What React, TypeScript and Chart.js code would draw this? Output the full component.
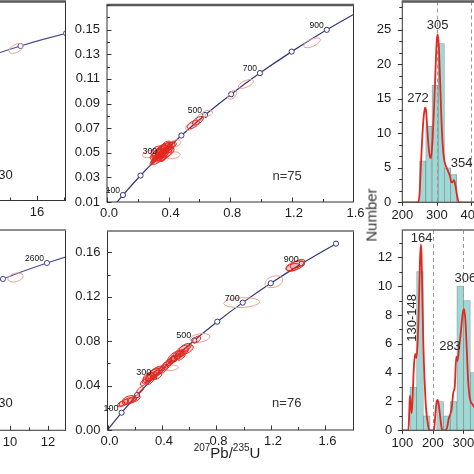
import React, { useEffect, useRef } from 'react';
import { Chart, registerables } from 'chart.js';

Chart.register(...registerables);

const FONT = "'Liberation Sans', Arial, Helvetica, sans-serif";
Chart.defaults.font.family = FONT;
Chart.defaults.color = '#1e1e1e';

// ---------------- DATA ----------------
// Concordia reference points (age in Ma, 207Pb/235U, 206Pb/238U)
const youngAges = [0, 100, 200, 300, 400, 500, 600, 700, 800, 900, 1000];
const young207_235 = [0, 0.1035, 0.2177, 0.3437, 0.4828, 0.6363, 0.8057, 0.9925, 1.1987, 1.4264, 1.6774];
const young206_238 = [0, 0.01563, 0.03151, 0.04764, 0.06402, 0.08065, 0.09754, 0.1147, 0.13213, 0.14983, 0.16781];
const youngMarkedAges = [100, 200, 300, 400, 500, 600, 700, 800, 900, 1000];
const youngLabelledAges = [100, 300, 500, 700, 900];

const oldAges = [2300, 2400, 2500, 2600, 2700, 2800, 2900, 3000, 3100];
const old207_235 = [8.6329, 9.6298, 10.7305, 11.944, 13.2837, 14.7617, 16.3923, 18.1919, 20.1797];
const old206_238 = [0.42874, 0.45108, 0.47376, 0.49678, 0.52013, 0.544, 0.56814, 0.59266, 0.61748];
const oldMarkedAges = [2400, 2600, 2800, 3000];
const oldLabelledAges = [2600];

// Error ellipses: [207Pb/235U, ±, 206Pb/238U, ±, rho]
const topLeftEllipses = [[14.42, 0.53, 0.5345, 0.019, 0.5]];
const bottomLeftEllipses = [[10.29, 0.4, 0.4553, 0.013, 0.3]];

const topMidStrong = [
  [0.32, 0.03, 0.046, 0.0035, 0.8], [0.33, 0.035, 0.0475, 0.004, 0.8], [0.34, 0.03, 0.0485, 0.0035, 0.7],
  [0.35, 0.035, 0.0495, 0.004, 0.8], [0.36, 0.03, 0.05, 0.0035, 0.7], [0.37, 0.035, 0.051, 0.004, 0.7],
  [0.38, 0.03, 0.052, 0.0035, 0.7], [0.39, 0.03, 0.053, 0.0035, 0.6], [0.31, 0.025, 0.0445, 0.003, 0.8],
  [0.3, 0.02, 0.043, 0.003, 0.8], [0.345, 0.045, 0.048, 0.005, 0.8], [0.365, 0.045, 0.0505, 0.005, 0.8],
  [0.355, 0.02, 0.047, 0.0025, 0.6], [0.375, 0.025, 0.049, 0.003, 0.6], [0.335, 0.02, 0.0505, 0.003, 0.6],
  [0.325, 0.03, 0.0495, 0.0035, 0.5], [0.405, 0.035, 0.055, 0.0035, 0.6], [0.42, 0.03, 0.056, 0.003, 0.5],
  [0.385, 0.04, 0.0545, 0.004, 0.6], [0.35, 0.025, 0.052, 0.003, 0.6], [0.315, 0.035, 0.0485, 0.004, 0.7],
  [0.365, 0.02, 0.0455, 0.0025, 0.5], [0.34, 0.05, 0.0505, 0.0055, 0.7], [0.37, 0.05, 0.0485, 0.005, 0.6],
  [0.36, 0.045, 0.053, 0.005, 0.7], [0.33, 0.04, 0.045, 0.0045, 0.7], [0.39, 0.045, 0.0505, 0.0045, 0.5],
  [0.35, 0.04, 0.0465, 0.004, 0.5], [0.38, 0.035, 0.0555, 0.004, 0.6], [0.32, 0.035, 0.0515, 0.004, 0.5],
  [0.4, 0.03, 0.0525, 0.003, 0.5], [0.355, 0.03, 0.0535, 0.0035, 0.6],
  [0.56, 0.04, 0.073, 0.0035, 0.6], [0.59, 0.035, 0.076, 0.0035, 0.6],
];
const topMidPale = [
  [0.275, 0.045, 0.049, 0.003, 0.3], [0.425, 0.05, 0.048, 0.0028, 0.2], [0.44, 0.04, 0.0575, 0.003, 0.4],
  [0.61, 0.03, 0.079, 0.003, 0.5], [0.54, 0.03, 0.0712, 0.003, 0.5], [0.65, 0.035, 0.082, 0.0025, 0.3],
  [0.813, 0.029, 0.097, 0.0036, 0.5], [0.902, 0.049, 0.1059, 0.0036, 0.6], [1.331, 0.054, 0.1393, 0.004, 0.6],
];
const bottomMidStrong = [
  [1.377, 0.066, 0.1478, 0.0045, 0.5], [1.395, 0.055, 0.1495, 0.004, 0.6], [1.36, 0.05, 0.1465, 0.0035, 0.4],
  [0.655, 0.03, 0.0815, 0.003, 0.5],
  [0.44, 0.035, 0.06, 0.004, 0.7], [0.47, 0.04, 0.0625, 0.0045, 0.7], [0.5, 0.04, 0.065, 0.004, 0.7],
  [0.53, 0.04, 0.068, 0.0045, 0.7], [0.56, 0.035, 0.07, 0.004, 0.7], [0.59, 0.04, 0.0725, 0.004, 0.6],
  [0.51, 0.05, 0.067, 0.005, 0.7], [0.54, 0.03, 0.066, 0.003, 0.6], [0.48, 0.03, 0.064, 0.003, 0.6],
  [0.57, 0.045, 0.074, 0.004, 0.6], [0.49, 0.05, 0.0655, 0.0055, 0.6], [0.55, 0.05, 0.0715, 0.005, 0.6],
  [0.29, 0.035, 0.046, 0.004, 0.7], [0.32, 0.04, 0.048, 0.0045, 0.7], [0.35, 0.035, 0.05, 0.004, 0.7],
  [0.38, 0.04, 0.053, 0.004, 0.7], [0.41, 0.035, 0.055, 0.004, 0.6], [0.31, 0.03, 0.044, 0.003, 0.6],
  [0.34, 0.045, 0.051, 0.005, 0.6], [0.27, 0.03, 0.043, 0.003, 0.6], [0.37, 0.03, 0.049, 0.003, 0.5],
  [0.43, 0.04, 0.058, 0.004, 0.6], [0.24, 0.025, 0.036, 0.003, 0.6], [0.33, 0.05, 0.0495, 0.0055, 0.6],
  [0.36, 0.05, 0.0525, 0.005, 0.6], [0.3, 0.04, 0.0475, 0.0045, 0.5],
  [0.12, 0.035, 0.0245, 0.003, 0.5], [0.15, 0.04, 0.026, 0.003, 0.5], [0.18, 0.035, 0.027, 0.003, 0.5],
  [0.21, 0.03, 0.0285, 0.003, 0.5], [0.16, 0.05, 0.0275, 0.0035, 0.4], [0.1, 0.025, 0.0235, 0.0025, 0.5],
];
const bottomMidPale = [
  [1.222, 0.066, 0.1335, 0.0054, 0.3], [0.985, 0.132, 0.1147, 0.0045, 0.15],
  [0.679, 0.073, 0.0829, 0.004, 0.3], [0.47, 0.05, 0.056, 0.0025, 0.2],
];

// Histograms (age in Ma, counts) and probability curves
const upperBinAges = [259, 277, 295, 313, 331, 349];
const upperBinCounts = [6, 11, 17, 23, 5, 4];
const upperKdeAges = [200, 245, 250, 254, 258, 262, 266, 269, 272, 276, 280, 283, 287, 291, 295, 298, 301, 303, 306, 309, 313, 317, 321, 326, 332, 338, 343, 347, 350, 354, 358, 362, 366, 430];
const upperKdeValues = [0, 0, 1.2, 5.4, 9.5, 12.4, 13.7, 13.2, 11, 8.2, 6.6, 6.4, 8.5, 12.5, 17.5, 21.5, 24, 24.3, 22.5, 18.5, 12.5, 8.4, 6.3, 5.3, 4.6, 3.8, 2.9, 3.0, 3.2, 2.4, 1.2, 0.2, 0, 0];
const upperPeakLabels = ['305', '272', '354'];
const upperPeakAges = [302.6, 245.5, 372];
const upperPeakCounts = [25.7, 15.1, 5.7];
const upperRefLines = [300, 400];

const lowerBinAges = [136, 158, 180, 202, 224, 246, 268, 290, 312, 334];
const lowerBinCounts = [3, 11, 1, 0, 2, 1, 2, 10, 9, 4];
const lowerKdeAges = [100, 120, 123, 125, 128, 131, 134, 138, 142, 146, 150, 154, 158, 161, 163, 166, 169, 173, 178, 184, 189, 204, 208, 212, 216, 220, 224, 229, 233, 243, 248, 252, 257, 262, 267, 272, 277, 281, 286, 291, 296, 300, 303, 307, 311, 315, 319, 324, 330, 340, 355];
const lowerKdeValues = [0, 0, 1.4, 2.4, 1.7, 1.2, 2.4, 4.4, 5.3, 5.0, 6.0, 8.4, 11.8, 12.9, 12.2, 9.0, 6.0, 3.5, 1.5, 0.4, 0, 0, 1.0, 1.9, 2.1, 1.7, 1.0, 0.15, 0, 0, 0.3, 0.8, 1.1, 1.5, 2.6, 3.0, 5.1, 4.8, 5.7, 6.6, 7.7, 8.3, 8.4, 7.6, 5.8, 3.8, 2.6, 2.0, 1.8, 1.5, 1.0];
const lowerPeakLabels = ['164', '306', '283'];
const lowerPeakAges = [163.6, 307, 256.4];
const lowerPeakCounts = [13.34, 10.56, 5.85];
const lowerRangeLabel = '130-148';
const lowerRefLines = [200, 300];

const sampleCounts = ['n=30', 'n=75', 'n=30', 'n=76'];

// ---------------- STYLE ----------------
const NAVY = '#33367a';
const NAVY_OLD = '#4a4e92';
const RED = '#e2281f';
const RED_SHADE = 'rgba(226,40,31,0.14)';
const PALE = '#eca08f';
const TXT = '#1e1e1e';
const BAR_FILL = '#a0d8d5';
const BAR_EDGE = '#7d9b9b';

// ---------------- PLUGINS (config kept in closures) ----------------
type Extras = {
  ellipses?: { items: number[][]; color: string; shade?: string }[];
  frameTop: { width: number; color: string };
  ticks: { id: string; dir: 'in' | 'out'; major: number; minor: number; minorStep?: number }[];
  texts?: any[];
  vlines?: number[];
};

function makePlugins(ex: Extras) {
  const ellipses = {
    id: 'ellipsesLayer',
    afterDatasetsDraw(chart: any) {
      if (!ex.ellipses) return;
      const { ctx, chartArea: a } = chart;
      const xs = chart.scales.x, ys = chart.scales.y;
      ctx.save();
      ctx.beginPath();
      ctx.rect(a.left, a.top, a.right - a.left, a.bottom - a.top);
      ctx.clip();
      for (const g of ex.ellipses) {
        ctx.strokeStyle = g.color;
        ctx.lineWidth = 1;
        for (const e of g.items) {
          const [x, sx, y, sy, rho] = e;
          const cx = xs.getPixelForValue(x), cy = ys.getPixelForValue(y);
          const kx = Math.abs(xs.getPixelForValue(x + sx) - cx);
          const ky = Math.abs(ys.getPixelForValue(y + sy) - cy);
          const A = kx * kx, C = ky * ky, B = -rho * kx * ky;
          const h = (A + C) / 2, d = Math.sqrt(((A - C) / 2) ** 2 + B * B);
          const r1 = Math.sqrt(h + d), r2 = Math.sqrt(Math.max(h - d, 0.05));
          const th = 0.5 * Math.atan2(2 * B, A - C);
          ctx.beginPath();
          ctx.ellipse(cx, cy, r1, r2, th, 0, Math.PI * 2);
          if (g.shade) {
            ctx.fillStyle = g.shade;
            ctx.fill();
          }
          ctx.stroke();
        }
      }
      ctx.restore();
    },
  };
  const vlines = {
    id: 'refLines',
    afterDatasetDraw(chart: any, args: any) {
      if (!ex.vlines || args.index !== 1) return;
      const { ctx, chartArea: a } = chart;
      const xs = chart.scales.x;
      ctx.save();
      ctx.strokeStyle = '#9a9a9a';
      ctx.lineWidth = 1;
      ctx.setLineDash([4, 3]);
      for (const v of ex.vlines) {
        const p = Math.round(xs.getPixelForValue(v)) + 0.5;
        ctx.beginPath();
        ctx.moveTo(p, a.top);
        ctx.lineTo(p, a.bottom);
        ctx.stroke();
      }
      ctx.restore();
    },
  };
  const frame = {
    id: 'frameLayer',
    afterDraw(chart: any) {
      const { ctx, chartArea: a } = chart;
      ctx.save();
      ctx.strokeStyle = '#333';
      ctx.lineWidth = 1;
      ctx.strokeRect(a.left, a.top, a.right - a.left, a.bottom - a.top);
      ctx.strokeStyle = ex.frameTop.color;
      ctx.lineWidth = ex.frameTop.width;
      ctx.beginPath();
      ctx.moveTo(a.left - 0.5, a.top);
      ctx.lineTo(a.right + 0.5, a.top);
      ctx.stroke();
      ctx.restore();
    },
  };
  const ticks = {
    id: 'tickLayer',
    afterDraw(chart: any) {
      const { ctx, chartArea: a } = chart;
      ctx.save();
      ctx.strokeStyle = '#333';
      ctx.lineWidth = 1;
      for (const spec of ex.ticks) {
        const s = chart.scales[spec.id];
        const marks: number[][] = s.ticks.map((t: any) => [t.value, t.label ? spec.major : spec.minor]);
        if (spec.minorStep) {
          const k0 = Math.ceil(s.min / spec.minorStep - 1e-9);
          const k1 = Math.floor(s.max / spec.minorStep + 1e-9);
          for (let k = k0; k <= k1; k++) {
            const v = k * spec.minorStep;
            if (!s.ticks.some((t: any) => Math.abs(t.value - v) < spec.minorStep! * 1e-3)) marks.push([v, spec.minor]);
          }
        }
        const sign = spec.dir === 'in' ? 1 : -1;
        ctx.beginPath();
        for (const [v, len] of marks) {
          if (!len) continue;
          const p = Math.round(s.getPixelForValue(v)) + 0.5;
          if (spec.id === 'x') {
            if (p < a.left - 0.6 || p > a.right + 0.6) continue;
            ctx.moveTo(p, a.bottom);
            ctx.lineTo(p, a.bottom - sign * len);
          } else {
            if (p < a.top - 0.6 || p > a.bottom + 0.6) continue;
            ctx.moveTo(a.left, p);
            ctx.lineTo(a.left + sign * len, p);
          }
        }
        ctx.stroke();
      }
      ctx.restore();
    },
  };
  const texts = {
    id: 'textLayer',
    afterDraw(chart: any) {
      if (!ex.texts) return;
      const { ctx } = chart;
      const xs = chart.scales.x, ys = chart.scales.y;
      ctx.save();
      for (const it of ex.texts) {
        const px = xs.getPixelForValue(it.x) + (it.dx || 0);
        const py = ys.getPixelForValue(it.y) + (it.dy || 0);
        ctx.font = it.font;
        ctx.fillStyle = it.color || TXT;
        ctx.textAlign = it.align || 'center';
        ctx.textBaseline = it.base || 'middle';
        if (it.rot) {
          ctx.save();
          ctx.translate(px, py);
          ctx.rotate(it.rot);
          ctx.fillText(it.text, 0, 0);
          ctx.restore();
        } else {
          ctx.fillText(it.text, px, py);
        }
      }
      ctx.restore();
    },
  };
  return [ellipses, vlines, frame, ticks, texts];
}

// ---------------- HELPERS ----------------
type Box = { l: number; t: number; w: number; h: number };
type Area = { l: number; t: number; r: number; b: number };

function layoutFor(box: Box, area: Area, yShown: boolean) {
  return {
    padding: { left: yShown ? 0 : area.l - box.l, top: area.t - box.t, right: box.l + box.w - area.r, bottom: 0 },
    yW: area.l - box.l,
    xH: box.t + box.h - area.b,
  };
}

const zeroPad = (s: any) => {
  s.paddingLeft = 0; s.paddingRight = 0; s.paddingTop = 0; s.paddingBottom = 0;
};

function xAxis(min: number, max: number, step: number, fmt: (v: number) => string, h: number, padding = 4, labelOffset = 0) {
  return {
    type: 'linear', min, max,
    afterFit: (s: any) => { s.height = h; zeroPad(s); },
    grid: { display: false, drawTicks: false },
    border: { display: false },
    ticks: { stepSize: step, autoSkip: false, maxRotation: 0, minRotation: 0, includeBounds: false, padding, labelOffset, color: TXT, font: { size: 13 }, callback: fmt },
  };
}
function yAxis(min: number, max: number, step: number, fmt: (v: number) => string, w: number, padding = 7) {
  return {
    type: 'linear', min, max,
    afterFit: (s: any) => { s.width = w; zeroPad(s); },
    grid: { display: false, drawTicks: false },
    border: { display: false },
    ticks: { stepSize: step, autoSkip: false, includeBounds: false, padding, color: TXT, font: { size: 13 }, callback: fmt },
  };
}
function baseOptions(padding: any) {
  return {
    responsive: false, animation: false, devicePixelRatio: 1, events: [],
    layout: { padding },
  };
}
function concordia(xs: number[], ys: number[], ages: number[], marked: number[], color: string) {
  return {
    type: 'line',
    data: xs.map((x, i) => ({ x, y: ys[i] })),
    borderColor: color, borderWidth: 1.2,
    pointRadius: ages.map((a) => (marked.includes(a) ? 2.6 : 0)),
    pointBackgroundColor: '#ffffff', pointBorderColor: color, pointBorderWidth: 1,
    cubicInterpolationMode: 'monotone', fill: false,
  };
}
function ageLabels(xs: number[], ys: number[], ages: number[], labelled: number[], size: number) {
  return labelled.map((age) => {
    const i = ages.indexOf(age);
    return { text: String(age), x: xs[i], y: ys[i], dx: -3, dy: 0, align: 'right', base: 'bottom', font: `${size}px ${FONT}`, color: '#111' };
  });
}
const fmtTenths4 = (v: number) => (Math.round(v * 10) % 4 === 0 ? v.toFixed(1) : '');
const plainPlugins = { legend: { display: false }, tooltip: { enabled: false } };
const TOP_FRAME = { width: 2.5, color: '#5a5a5a' };
const LOW_FRAME = { width: 1.5, color: '#8a8a8a' };

// ---------------- PANELS ----------------
const TL_BOX: Box = { l: -10, t: 0, w: 90, h: 226 };
const TL_AREA: Area = { l: -5, t: 1.5, r: 65.5, b: 200.5 };
function buildTL() {
  const L = layoutFor(TL_BOX, TL_AREA, false);
  return {
    type: 'line',
    data: { datasets: [concordia(old207_235, old206_238, oldAges, oldMarkedAges, NAVY_OLD)] },
    options: {
      ...baseOptions(L.padding),
      scales: {
        x: xAxis(12.842, 18.143, 2, (v) => (Math.round(v) % 4 === 0 ? String(Math.round(v)) : ''), L.xH),
        y: { type: 'linear', display: false, min: -0.0457, max: 0.7138 },
      },
      plugins: plainPlugins,
    },
    plugins: makePlugins({
      frameTop: TOP_FRAME,
      ticks: [{ id: 'x', dir: 'in', major: 4.5, minor: 3 }],
      ellipses: [{ items: topLeftEllipses, color: PALE }],
      texts: [{ text: sampleCounts[0], x: 14.173, y: 0.049, align: 'right', font: `13px ${FONT}` }],
    }),
  };
}

const TM_BOX: Box = { l: 55, t: 0, w: 315, h: 226 };
const TM_AREA: Area = { l: 107, t: 1.5, r: 353.5, b: 202 };
function buildTM() {
  const L = layoutFor(TM_BOX, TM_AREA, true);
  return {
    type: 'line',
    data: { datasets: [concordia(young207_235, young206_238, youngAges, youngMarkedAges, NAVY)] },
    options: {
      ...baseOptions(L.padding),
      scales: {
        x: xAxis(0, 1.6, 0.2, fmtTenths4, L.xH, 4, 2),
        y: yAxis(0.01, 0.17, 0.01, (v) => { const k = Math.round(v * 100); return k % 2 === 1 && k <= 15 ? v.toFixed(2) : ''; }, L.yW, 7),
      },
      plugins: plainPlugins,
    },
    plugins: makePlugins({
      frameTop: TOP_FRAME,
      ticks: [{ id: 'x', dir: 'in', major: 4.5, minor: 3 }, { id: 'y', dir: 'in', major: 4.5, minor: 3 }],
      ellipses: [{ items: topMidPale, color: PALE }, { items: topMidStrong, color: RED, shade: RED_SHADE }],
      texts: [
        ...ageLabels(young207_235, young206_238, youngAges, youngLabelledAges, 8.5),
        { text: sampleCounts[1], x: 1.169, y: 0.0307, font: `13px ${FONT}`, color: '#333' },
      ],
    }),
  };
}

const TR_BOX: Box = { l: 362, t: 0, w: 130, h: 226 };
const TR_AREA: Area = { l: 402.3, t: 1.5, r: 481, b: 202.3 };
function buildTR() {
  const L = layoutFor(TR_BOX, TR_AREA, true);
  return {
    type: 'bar',
    data: {
      datasets: [
        {
          type: 'line', order: 0,
          data: upperKdeAges.map((x, i) => ({ x, y: upperKdeValues[i] })),
          borderColor: RED, borderWidth: 1.8, pointRadius: 0, cubicInterpolationMode: 'monotone', fill: false,
        },
        {
          type: 'bar', order: 1,
          data: upperBinAges.map((x, i) => ({ x, y: upperBinCounts[i] })),
          backgroundColor: BAR_FILL, borderColor: BAR_EDGE, borderWidth: 0.8,
          barPercentage: 1, categoryPercentage: 1,
        },
      ],
    },
    options: {
      ...baseOptions(L.padding),
      scales: {
        x: { ...xAxis(200, 428.1, 100, (v) => String(v), L.xH, 5), offset: false },
        y: yAxis(0, 29.1, 5, (v) => String(v), L.yW, 11),
      },
      plugins: plainPlugins,
    },
    plugins: makePlugins({
      frameTop: TOP_FRAME,
      ticks: [{ id: 'y', dir: 'out', major: 4.5, minor: 3, minorStep: 5 / 3 }, { id: 'x', dir: 'out', major: 3.5, minor: 0 }],
      vlines: upperRefLines,
      texts: upperPeakLabels.map((t, i) => ({ text: t, x: upperPeakAges[i], y: upperPeakCounts[i], font: `13px ${FONT}`, color: '#2a2a2a' })),
    }),
  };
}

const BL_BOX: Box = { l: -10, t: 226, w: 90, h: 240 };
const BL_AREA: Area = { l: -5, t: 230, r: 65.5, b: 430.3 };
function buildBL() {
  const L = layoutFor(BL_BOX, BL_AREA, false);
  return {
    type: 'line',
    data: { datasets: [concordia(old207_235, old206_238, oldAges, oldMarkedAges, NAVY_OLD)] },
    options: {
      ...baseOptions(L.padding),
      scales: {
        x: xAxis(9.211, 12.921, 1, (v) => (Math.round(v) % 2 === 0 ? String(Math.round(v)) : ''), L.xH),
        y: { type: 'linear', display: false, min: 0.0187, max: 0.591 },
      },
      plugins: plainPlugins,
    },
    plugins: makePlugins({
      frameTop: LOW_FRAME,
      ticks: [{ id: 'x', dir: 'in', major: 4.5, minor: 3 }],
      ellipses: [{ items: bottomLeftEllipses, color: PALE }],
      texts: [
        ...ageLabels(old207_235, old206_238, oldAges, oldLabelledAges, 8.5),
        { text: sampleCounts[2], x: 10.143, y: 0.0967, align: 'right', font: `13px ${FONT}` },
      ],
    }),
  };
}

const BM_BOX: Box = { l: 55, t: 226, w: 315, h: 240 };
const BM_AREA: Area = { l: 107.5, t: 230, r: 353.5, b: 430 };
function buildBM() {
  const L = layoutFor(BM_BOX, BM_AREA, true);
  return {
    type: 'line',
    data: { datasets: [concordia(young207_235, young206_238, youngAges, youngMarkedAges, NAVY)] },
    options: {
      ...baseOptions(L.padding),
      scales: {
        x: xAxis(0, 1.806, 0.2, fmtTenths4, L.xH, 4, 2),
        y: yAxis(0, 0.1792, 0.02, (v) => (Math.round(v * 100) % 4 === 0 ? v.toFixed(2) : ''), L.yW, 7),
      },
      plugins: plainPlugins,
    },
    plugins: makePlugins({
      frameTop: LOW_FRAME,
      ticks: [{ id: 'x', dir: 'in', major: 4.5, minor: 3 }, { id: 'y', dir: 'in', major: 4.5, minor: 3 }],
      ellipses: [{ items: bottomMidPale, color: PALE }, { items: bottomMidStrong, color: RED, shade: RED_SHADE }],
      texts: [
        ...ageLabels(young207_235, young206_238, youngAges, youngLabelledAges, 9),
        { text: sampleCounts[3], x: 1.316, y: 0.024, font: `13px ${FONT}`, color: '#333' },
      ],
    }),
  };
}

const BR_BOX: Box = { l: 362, t: 226, w: 130, h: 240 };
const BR_AREA: Area = { l: 402.3, t: 230, r: 480, b: 430.3 };
function buildBR() {
  const L = layoutFor(BR_BOX, BR_AREA, true);
  return {
    type: 'bar',
    data: {
      datasets: [
        {
          type: 'line', order: 0,
          data: lowerKdeAges.map((x, i) => ({ x, y: lowerKdeValues[i] })),
          borderColor: RED, borderWidth: 1.8, pointRadius: 0, cubicInterpolationMode: 'monotone', fill: false,
        },
        {
          type: 'bar', order: 1,
          data: lowerBinAges.map((x, i) => ({ x, y: lowerBinCounts[i] })),
          backgroundColor: BAR_FILL, borderColor: BAR_EDGE, borderWidth: 0.8,
          barPercentage: 1, categoryPercentage: 1,
        },
      ],
    },
    options: {
      ...baseOptions(L.padding),
      scales: {
        x: { ...xAxis(100, 354.8, 100, (v) => String(v), L.xH, 5), offset: false },
        y: yAxis(0, 13.89, 2, (v) => String(v), L.yW, 10),
      },
      plugins: plainPlugins,
    },
    plugins: makePlugins({
      frameTop: LOW_FRAME,
      ticks: [{ id: 'y', dir: 'out', major: 4.5, minor: 3, minorStep: 1 }, { id: 'x', dir: 'out', major: 3.5, minor: 0 }],
      vlines: lowerRefLines,
      texts: [
        ...lowerPeakLabels.map((t, i) => ({ text: t, x: lowerPeakAges[i], y: lowerPeakCounts[i], font: `13px ${FONT}`, color: '#2a2a2a' })),
        { text: lowerRangeLabel, x: 133.4, y: 7.8, rot: -Math.PI / 2, font: `13px ${FONT}`, color: '#2a2a2a' },
      ],
    }),
  };
}

// ---------------- COMPONENTS ----------------
function ChartPanel({ box, build }: { box: Box; build: () => any }) {
  const ref = useRef<HTMLCanvasElement | null>(null);
  useEffect(() => {
    if (!ref.current) return;
    const chart = new Chart(ref.current, build());
    return () => chart.destroy();
  }, []);
  return (
    <div style={{ position: 'absolute', left: box.l, top: box.t, width: box.w, height: box.h }}>
      <canvas ref={ref} width={box.w} height={box.h} style={{ display: 'block', width: box.w, height: box.h }} />
    </div>
  );
}

export default function App() {
  const sup = { fontSize: 10, position: 'relative' as const, top: -7 };
  return (
    <div style={{ position: 'fixed', left: 0, top: 0, width: 474, height: 474, overflow: 'hidden', background: '#ffffff', fontFamily: FONT, color: TXT }}>
      <ChartPanel box={TL_BOX} build={buildTL} />
      <ChartPanel box={TM_BOX} build={buildTM} />
      <ChartPanel box={TR_BOX} build={buildTR} />
      <ChartPanel box={BL_BOX} build={buildBL} />
      <ChartPanel box={BM_BOX} build={buildBM} />
      <ChartPanel box={BR_BOX} build={buildBR} />
      <div style={{ position: 'absolute', left: 167, top: 443.5, width: 120, textAlign: 'center', fontSize: 15, lineHeight: '17px', whiteSpace: 'nowrap' }}>
        <span style={sup}>207</span>Pb/<span style={sup}>235</span>U
      </div>
      <div style={{ position: 'absolute', left: 371, top: 215, transform: 'translate(-50%, -50%) rotate(-90deg)', fontSize: 15, lineHeight: '17px', whiteSpace: 'nowrap', color: '#333' }}>
        Number
      </div>
    </div>
  );
}
